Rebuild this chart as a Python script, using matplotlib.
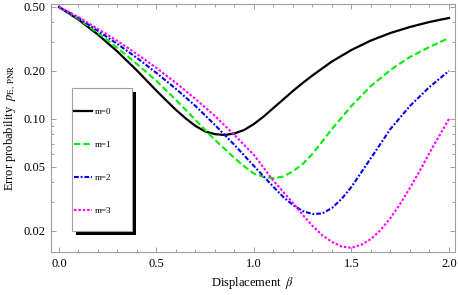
import matplotlib
matplotlib.use('Agg')
import matplotlib.pyplot as plt
from matplotlib.patches import Rectangle

plt.rcParams['font.family'] = ['Liberation Serif', 'DejaVu Serif']
plt.rcParams['mathtext.fontset'] = 'stix'

# values
beta_m0 = [0, 0.1, 0.2, 0.3, 0.4, 0.5, 0.55, 0.6, 0.65, 0.7, 0.75, 0.8, 0.85, 0.9,
           0.95, 1.0, 1.05, 1.1, 1.15, 1.2, 1.25, 1.3, 1.4, 1.5, 1.6, 1.7, 1.8, 1.9, 2.0]
p_m0 = [0.5, 0.4165, 0.3361, 0.2631, 0.2002, 0.1497, 0.1302, 0.1136, 0.1005, 0.0902,
        0.0833, 0.0802, 0.0792, 0.0810, 0.0852, 0.0928, 0.1034, 0.1169, 0.1321,
        0.1493, 0.1675, 0.1866, 0.2283, 0.2693, 0.3088, 0.3439, 0.3750, 0.4029, 0.4268]

beta_m1 = [0, 0.1, 0.2, 0.3, 0.4, 0.5, 0.6, 0.7, 0.8, 0.9, 0.95, 1.0, 1.05, 1.1,
           1.15, 1.2, 1.25, 1.3, 1.4, 1.5, 1.6, 1.7, 1.8, 1.9, 2.0]
p_m1 = [0.5, 0.4207, 0.3439, 0.2771, 0.2201, 0.1724, 0.1311, 0.0983, 0.0737, 0.0569,
        0.0504, 0.0455, 0.0433, 0.0425, 0.0436, 0.0469, 0.0522, 0.0603, 0.0864,
        0.1203, 0.1604, 0.2019, 0.2435, 0.2812, 0.3200]

beta_m2 = [0, 0.1, 0.2, 0.3, 0.4, 0.5, 0.6, 0.7, 0.8, 0.9, 1.0, 1.1, 1.15, 1.2,
           1.25, 1.3, 1.35, 1.4, 1.45, 1.5, 1.6, 1.7, 1.8, 1.9, 2.0]
p_m2 = [0.5, 0.4268, 0.3540, 0.2935, 0.2400, 0.1934, 0.1537, 0.1203, 0.0915, 0.0686,
        0.0507, 0.0375, 0.0325, 0.0289, 0.0265, 0.0254, 0.0256, 0.0277, 0.0316,
        0.0375, 0.0569, 0.0864, 0.1203, 0.1581, 0.1991]

beta_m3 = [0, 0.1, 0.2, 0.3, 0.4, 0.5, 0.6, 0.7, 0.8, 0.9, 1.0, 1.1, 1.2, 1.25,
           1.3, 1.35, 1.4, 1.45, 1.5, 1.55, 1.6, 1.65, 1.7, 1.75, 1.8, 1.85, 1.9,
           1.95, 2.0]
p_m3 = [0.5, 0.4329, 0.3642, 0.3066, 0.2542, 0.2078, 0.1675, 0.1330, 0.1041, 0.0792,
        0.0594, 0.0409, 0.0298, 0.0251, 0.0214, 0.0187, 0.0170, 0.0159, 0.0156,
        0.0163, 0.0177, 0.0202, 0.0240, 0.0294, 0.0370, 0.0472, 0.0612, 0.0781,
        0.0998]

labels = ['m=0', 'm=1', 'm=2', 'm=3']
y_ticks = [0.02, 0.05, 0.1, 0.2, 0.5]
y_ticklabels = ['0.02', '0.05', '0.10', '0.20', '0.50']
y_minor = [0.03, 0.04, 0.06, 0.07, 0.08, 0.09, 0.3, 0.4]
x_ticks = [0.0, 0.5, 1.0, 1.5, 2.0]

W, H = 458, 295
fig = plt.figure(figsize=(W / 100, H / 100), dpi=100)
ax = fig.add_axes([51 / W, 1 - 252 / H, (455 - 51) / W, (252 - 4) / H])

h0, = ax.plot(beta_m0, p_m0, color='black', lw=1.6, solid_joinstyle='round')
h1, = ax.plot(beta_m1, p_m1, color='#00ee00', lw=1.5, linestyle=(0, (3, 1.5)))
h2, = ax.plot(beta_m2, p_m2, color='#0000ee', lw=1.5, linestyle=(0, (2.3, 0.9, 0.9, 0.9)))
h3, = ax.plot(beta_m3, p_m3, color='#ff00ff', lw=1.5, linestyle=(0, (1.2, 0.9)))

ax.set_yscale('log')
ax.set_xlim(-0.041, 2.031)
ax.set_ylim(0.0147, 0.522)
ax.set_yticks(y_ticks)
ax.set_yticklabels(y_ticklabels)
ax.set_yticks(y_minor, minor=True)
ax.set_yticklabels([], minor=True)
ax.set_xticks(x_ticks)
ax.set_xticklabels(['%.1f' % t for t in x_ticks])
ax.set_xticks([i / 10 for i in range(21) if i % 5], minor=True)

frame_col = '#a0a0a0'
for s in ax.spines.values():
    s.set_color(frame_col)
    s.set_linewidth(0.8)
ax.tick_params(which='both', direction='in', top=True, right=True,
               color=frame_col, labelcolor='black', labelsize=9, width=0.7)
ax.tick_params(which='major', length=3.5, pad=4)
ax.tick_params(which='minor', length=2)

ax.set_xlabel(r'Displacement  $\beta$', fontsize=9, labelpad=4)
ax.set_ylabel(r'Error probability  $p_{\mathrm{E,\ PNR}}$', fontsize=9, labelpad=4)

# legend box with its black drop shadow
ax.add_patch(Rectangle((76 / W, 1 - 235.3 / H), 60 / W, 143.3 / H, transform=fig.transFigure,
                       facecolor='black', edgecolor='none', clip_on=False, zorder=4))
ax.add_patch(Rectangle((71.7 / W, 1 - 231 / H), 60 / W, 143.3 / H, transform=fig.transFigure,
                       facecolor='white', edgecolor='#a0a0a0', lw=0.8, clip_on=False, zorder=4))
ax.legend([h0, h1, h2, h3], labels, loc='upper left',
          bbox_to_anchor=(74.3 / W, 1 - 107.4 / H), bbox_transform=fig.transFigure,
          frameon=False, fontsize=6.5, handlelength=1.93, handletextpad=0.37,
          labelspacing=2.76, borderpad=0, borderaxespad=0)

fig.savefig('out.png', dpi=100)
